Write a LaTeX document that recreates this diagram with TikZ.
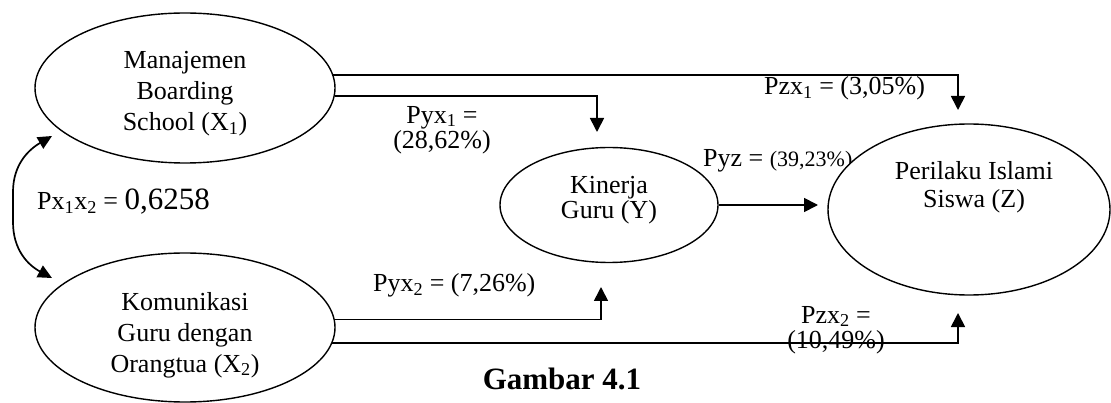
\documentclass[tikz,border=0pt]{standalone}
\usepackage{fontspec}
\setmainfont{Liberation Serif}
\usetikzlibrary{arrows.meta,shapes.geometric,calc}
\begin{document}
\begin{tikzpicture}[x=1pt,y=-1pt,
  ell/.style={ellipse,draw,line width=1.4pt,fill=white,inner sep=0pt},
  lbl/.style={font=\fontsize{26}{31}\selectfont,inner sep=0pt,align=center},
  conn/.style={line width=1.7pt,-{Triangle[length=14pt,width=14pt]}},
  curv/.style={line width=1.7pt,{Triangle[length=14pt,width=13pt]}-{Triangle[length=14pt,width=13pt]}},
]
\useasboundingbox (0,0) rectangle (1111,403);

% ellipses
\node[ell,minimum width=300pt,minimum height=150pt] (X1) at (185,88) {};
\node[ell,minimum width=300pt,minimum height=149pt] (X2) at (185,327.5) {};
\node[ell,minimum width=218pt,minimum height=115pt] (Y) at (609,205) {};

% label under Z ellipse
\node[lbl,anchor=base west] (lPyz) at (703,167) {Pyz = {\fontsize{22}{24}\selectfont(39,23\%)}};

\node[ell,minimum width=282pt,minimum height=171pt] (Z) at (969,209.5) {};

% texts in ellipses
\node[lbl] (tX1) at (185,94) {Manajemen\\Boarding\\School (X\textsubscript{1})};
\node[lbl] (tX2) at (185,335) {Komunikasi\\Guru dengan\\Orangtua (X\textsubscript{2})};
\node[lbl,font=\fontsize{26}{25}\selectfont] (tY) at (609,200) {Kinerja\\Guru (Y)};
\node[lbl,font=\fontsize{26}{28}\selectfont] (tZ) at (974,187) {Perilaku Islami\\Siswa (Z)};

% arrow tips
\coordinate (hZ1) at (958,110);
\coordinate (hY1) at (597,132);
\coordinate (hYZ) at (818,205);
\coordinate (hY2) at (601,287);
\coordinate (hZ2) at (958,313);
\coordinate (c1) at (52,136);
\coordinate (c2) at (52,278);

% labels
\node[lbl,anchor=base west] (lPzx1) at (764,95) {Pzx\textsubscript{1} = (3,05\%)};
\node[lbl,font=\fontsize{26}{25}\selectfont] (lPyx1) at (442,130) {Pyx\textsubscript{1} =\\(28,62\%)};
\node[lbl,anchor=base west] (lPyx2) at (373,292) {Pyx\textsubscript{2} = (7,26\%)};
\node[lbl,font=\fontsize{26}{25}\selectfont] (lPzx2) at (836,330) {Pzx\textsubscript{2} =\\(10,49\%)};
\node[lbl,anchor=base west] (lPx) at (37,210) {Px\textsubscript{1}x\textsubscript{2} = {\fontsize{31}{31}\selectfont 0,6258}};
\node[font=\bfseries\fontsize{31}{31}\selectfont,inner sep=0pt,anchor=base] (cap) at (562,389) {Gambar 4.1};

% connectors
\draw[conn] (X1.5) -| (hZ1);
\draw[conn] (X1.-3.5) -| (hY1);
\draw[conn] (Y.east) -- (hYZ);
\draw[conn] (X2.3.5) -| (hY2);
\draw[conn] (X2.-6.5) -| (hZ2);
\draw[curv] (c1) .. controls (28,150) and (13,165) .. (13,192) -- (13,222) .. controls (13,250) and (28,265) .. (c2);
\end{tikzpicture}
\end{document}
